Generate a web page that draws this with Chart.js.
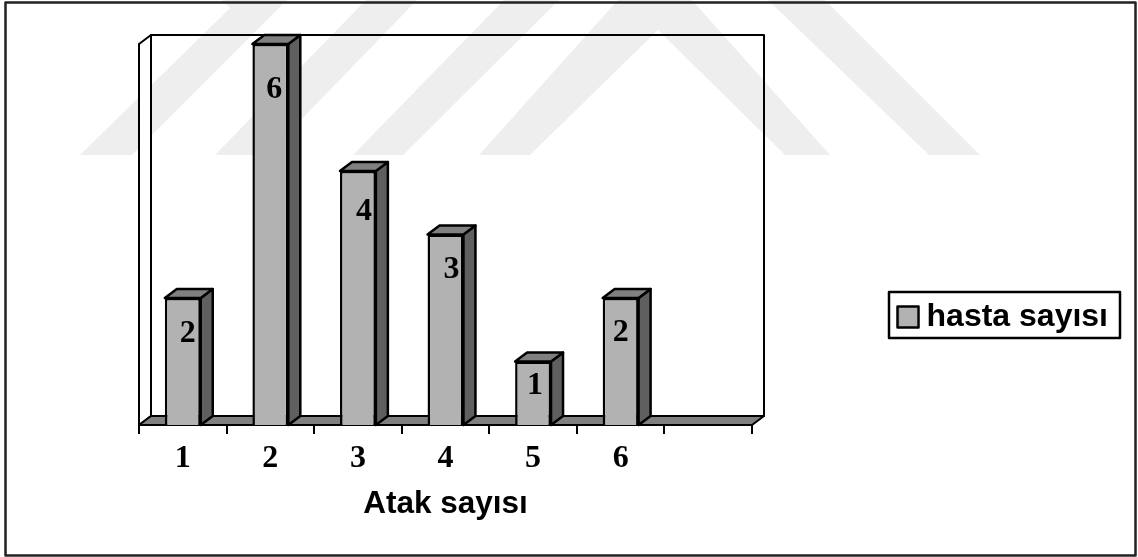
<!DOCTYPE html>
<html>
<head>
<meta charset="utf-8">
<title>Atak sayısı</title>
<script src="https://cdn.jsdelivr.net/npm/chart.js@4"></script>
<style>
  html, body { margin: 0; padding: 0; background: #fff; }
  canvas { display: block; }
</style>
</head>
<body>
<canvas id="myChart" width="1138" height="557"></canvas>
<script>
const categories = ['1', '2', '3', '4', '5', '6', ''];
const hastaSayisi = [2, 6, 4, 3, 1, 2, null];
const seriesName = 'hasta sayısı';
const axisTitle = 'Atak sayısı';

// derinlik efekti (sahte 3B)
const depthX = 12;
const depthY = 9;

function poly(ctx, pts, fill, stroke, lw) {
  ctx.beginPath();
  pts.forEach((p, i) => i ? ctx.lineTo(p[0], p[1]) : ctx.moveTo(p[0], p[1]));
  ctx.closePath();
  if (fill) { ctx.fillStyle = fill; ctx.fill(); }
  if (stroke) { ctx.strokeStyle = stroke; ctx.lineWidth = lw; ctx.lineJoin = 'round'; ctx.stroke(); }
}

// lejant kutucuğu: metne yakın dursun diye hazır çizilmiş küçük bir canvas
function legendSwatch() {
  const c = document.createElement('canvas');
  c.width = 24;
  c.height = 24;
  poly(c.getContext('2d'), [[1.5, 1.5], [22.5, 1.5], [22.5, 22.5], [1.5, 22.5]], '#b2b2b2', '#000', 2.5);
  return c;
}

// arka plandaki soluk çatı deseni
const backdrop = {
  id: 'backdrop',
  beforeDraw(chart) {
    const ctx = chart.ctx;
    const bands = [
      [[80, 155], [132, 155], [287, 0], [222, 0], [230, 8]],
      [[215, 155], [267, 155], [417, 0], [366, 0]],
      [[353, 155], [403, 155], [559, 0], [504, 0]],
      [[479, 155], [530, 155], [658, 30], [785, 155], [830, 155], [692, 0], [618, 0]],
      [[929, 155], [980, 155], [825, 0], [768, 0]],
    ];
    bands.forEach(b => poly(ctx, b, '#eeeeee'));
    poly(ctx, [[5.5, 2.5], [1135.5, 2.5], [1135.5, 555.5], [5.5, 555.5]], null, '#222', 2.5);
  }
};

// duvarlar ve zemin
const walls = {
  id: 'walls',
  beforeDraw(chart) {
    const ctx = chart.ctx;
    const a = chart.chartArea;
    const bx = a.left + depthX;
    const by = a.bottom - depthY;
    const tx = a.right + depthX;
    const ty = a.top - depthY;
    poly(ctx, [[a.left, a.bottom], [a.left, a.top], [bx, ty], [bx, by]], '#fff', '#000', 2);
    poly(ctx, [[bx, ty], [tx, ty], [tx, by], [bx, by]], null, '#000', 2);
    poly(ctx, [[a.left, a.bottom], [a.right, a.bottom], [tx, by], [bx, by]], '#808080', '#000', 2);
  }
};

// çubukların yan ve üst yüzleri
const barSides = {
  id: 'barSides',
  afterDatasetsDraw(chart) {
    const ctx = chart.ctx;
    chart.getDatasetMeta(0).data.forEach((bar, i) => {
      if (hastaSayisi[i] == null) return;
      const l = bar.x - bar.width / 2;
      const r = bar.x + bar.width / 2;
      poly(ctx, [[r, bar.y], [r + depthX, bar.y - depthY], [r + depthX, bar.base - depthY], [r, bar.base]], '#5f5f5f', '#000', 2.5);
      poly(ctx, [[l, bar.y], [l + depthX, bar.y - depthY], [r + depthX, bar.y - depthY], [r, bar.y]], '#808080', '#000', 2.5);
    });
  }
};

// değer etiketleri
const valueLabels = {
  id: 'valueLabels',
  afterDatasetsDraw(chart) {
    const ctx = chart.ctx;
    const nudgeX = [5, 4, 6, 6, 2, 0];
    const nudgeY = [36, 46, 41, 35, 24, 35];
    ctx.save();
    ctx.fillStyle = '#000';
    ctx.font = 'bold 32px "Liberation Serif"';
    ctx.textAlign = 'center';
    ctx.textBaseline = 'middle';
    chart.getDatasetMeta(0).data.forEach((bar, i) => {
      if (hastaSayisi[i] == null) return;
      ctx.fillText(String(hastaSayisi[i]), bar.x + nudgeX[i], bar.y + nudgeY[i]);
    });
    ctx.restore();
  }
};

// lejant çerçevesi
const legendFrame = {
  id: 'legendFrame',
  afterLayout(chart) {
    const lg = chart.legend;
    const h = lg.bottom - lg.top;
    lg.top = 317 - h / 2;
    lg.bottom = lg.top + h;
  },
  afterDraw(chart) {
    const ctx = chart.ctx;
    ctx.save();
    ctx.strokeStyle = '#000';
    ctx.lineWidth = 2.5;
    ctx.strokeRect(889, 292, 231, 46);
    ctx.restore();
  }
};

const swatch = legendSwatch();

const myChart = new Chart(document.getElementById('myChart'), {
  type: 'bar',
  data: {
    labels: categories,
    datasets: [{
      label: seriesName,
      data: hastaSayisi,
      backgroundColor: '#b2b2b2',
      borderColor: '#000',
      borderWidth: 2.5,
      barPercentage: 0.41,
      categoryPercentage: 1
    }]
  },
  plugins: [backdrop, walls, barSides, valueLabels, legendFrame],
  options: {
    responsive: false,
    animation: false,
    layout: { padding: { left: 139, top: 44, right: 20, bottom: 34 } },
    plugins: {
      tooltip: { enabled: false },
      legend: {
        position: 'right',
        labels: {
          color: '#000',
          usePointStyle: true,
          pointStyleWidth: 5,
          boxHeight: 20,
          padding: 10,
          font: { family: '"Liberation Sans"', weight: 'bold', size: 32 },
          generateLabels(chart) {
            return [{
              text: seriesName,
              pointStyle: swatch,
              fontColor: '#000',
              datasetIndex: 0
            }];
          }
        }
      }
    },
    scales: {
      x: {
        afterFit(s) { s.height = 98; },
        grid: { drawOnChartArea: false, offset: true, color: '#000', tickColor: '#000', tickLength: 9, lineWidth: 2 },
        border: { display: true, color: '#000', width: 2 },
        ticks: {
          color: '#000',
          padding: 6,
          maxRotation: 0,
          autoSkip: false,
          font: { family: '"Liberation Serif"', weight: 'bold', size: 32 }
        },
        title: {
          display: true,
          text: axisTitle,
          color: '#000',
          padding: { top: 10, bottom: 0 },
          font: { family: '"Liberation Sans"', weight: 'bold', size: 31.5 }
        }
      },
      y: {
        display: false,
        min: 0,
        max: 6,
        ticks: { stepSize: 1 }
      },
      // sağda lejanta kadar boşluk bırakır
      spacer: {
        position: 'right',
        display: true,
        grid: { display: false },
        border: { display: false },
        ticks: { display: false },
        afterFit(s) { s.width = 1138 - 752 - 20 - s.chart.legend.width; }
      }
    }
  }
});
</script>
</body>
</html>
